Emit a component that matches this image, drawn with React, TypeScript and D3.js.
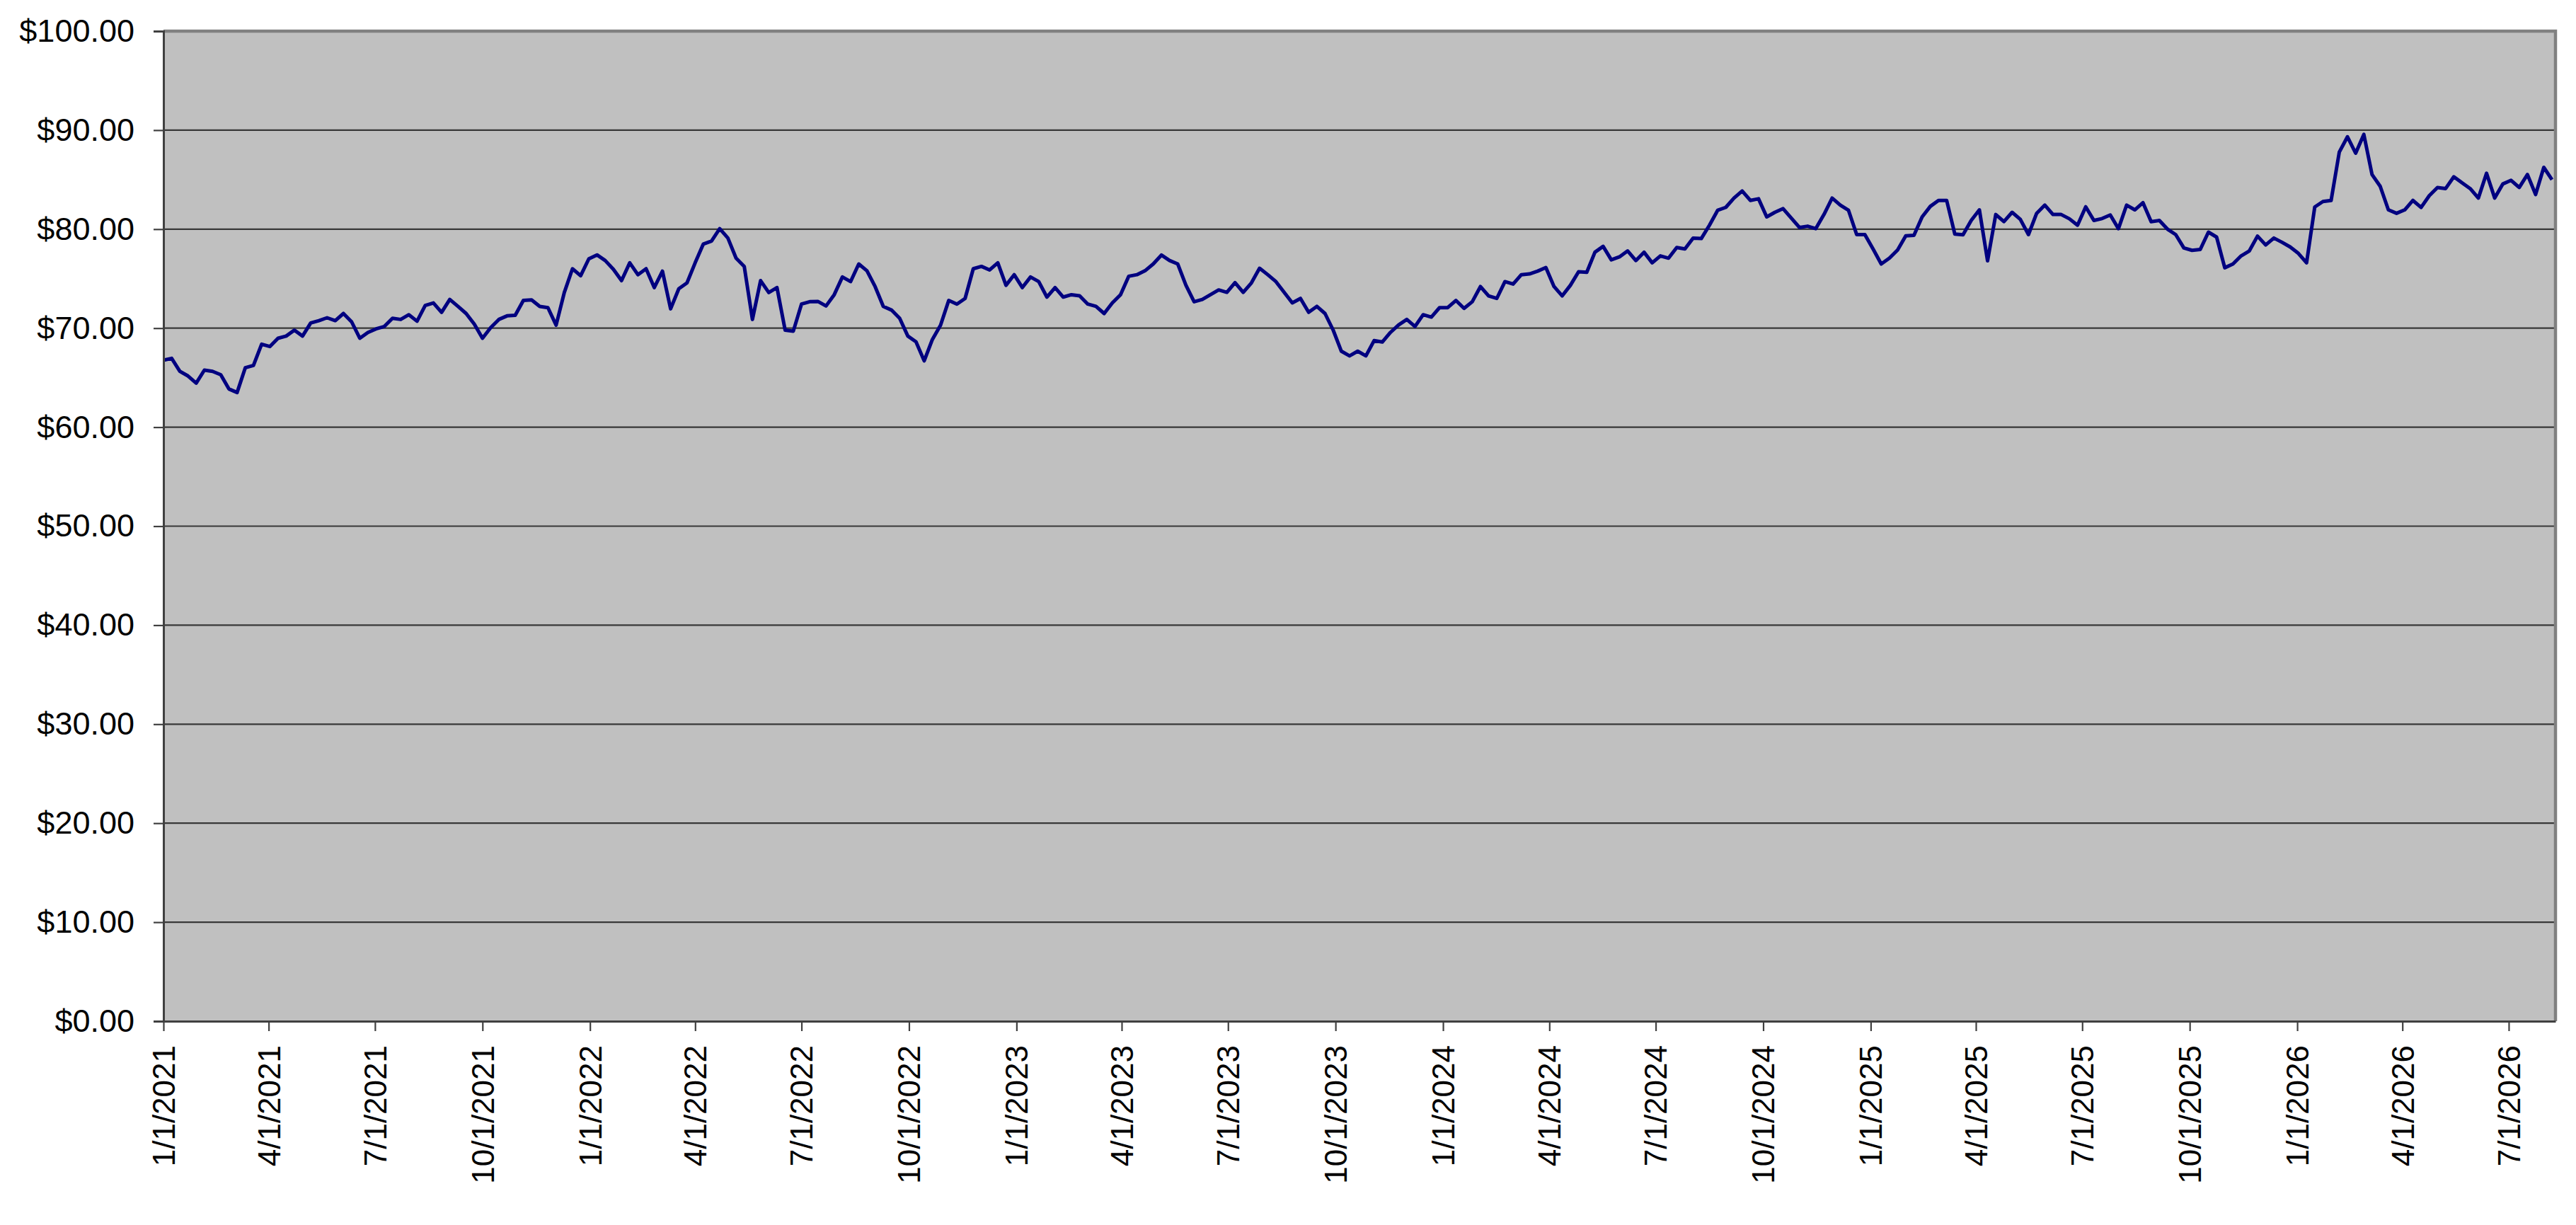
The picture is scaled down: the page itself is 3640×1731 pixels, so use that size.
import React, { useEffect, useRef } from 'react'
import * as d3 from 'd3'

// weekly closing price, first week starts 1/1/2021
const START_DATE = '1/1/2021'
const END_DATE = '8/10/2026'

const WEEKLY_CLOSE: number[] = [
  66.76, 66.95, 65.64, 65.17, 64.45, 65.76, 65.64, 65.3, 63.86, 63.5,
  66.0, 66.24, 68.38, 68.14, 68.98, 69.2, 69.8, 69.2, 70.52, 70.76,
  71.05, 70.76, 71.48, 70.64, 68.98, 69.57, 69.93, 70.17, 71.0, 70.88,
  71.36, 70.7, 72.3, 72.55, 71.6, 72.9, 72.2, 71.48, 70.4, 68.98,
  70.05, 70.88, 71.24, 71.3, 72.8, 72.86, 72.2, 72.07, 70.3, 73.6,
  76.0, 75.3, 77.0, 77.4, 76.83, 75.95, 74.8, 76.6, 75.4, 76.0,
  74.1, 75.76, 71.95, 73.98, 74.57, 76.6, 78.5, 78.8, 80.05, 79.1,
  77.07, 76.24, 70.88, 74.8, 73.6, 74.1, 69.8, 69.7, 72.43, 72.67,
  72.7, 72.24, 73.38, 75.17, 74.7, 76.48, 75.8, 74.2, 72.2, 71.83,
  71.0, 69.2, 68.62, 66.7, 68.86, 70.3, 72.8, 72.43, 73.0, 76.0,
  76.24, 75.88, 76.6, 74.33, 75.4, 74.1, 75.17, 74.7, 73.14, 74.1,
  73.14, 73.38, 73.26, 72.43, 72.2, 71.48, 72.55, 73.38, 75.24, 75.4,
  75.8, 76.48, 77.38, 76.83, 76.48, 74.33, 72.67, 72.9, 73.38, 73.86,
  73.62, 74.6, 73.62, 74.57, 76.05, 75.4, 74.7, 73.62, 72.55, 73.0,
  71.6, 72.2, 71.48, 69.8, 67.67, 67.2, 67.67, 67.2, 68.74, 68.6,
  69.57, 70.33, 70.88, 70.17, 71.36, 71.12, 72.07, 72.07, 72.8, 72.0,
  72.67, 74.2, 73.26, 73.0, 74.7, 74.45, 75.4, 75.48, 75.76, 76.12,
  74.2, 73.26, 74.33, 75.7, 75.64, 77.67, 78.26, 76.9, 77.2, 77.8,
  76.83, 77.67, 76.6, 77.3, 77.07, 78.14, 78.0, 79.1, 79.05, 80.4,
  81.9, 82.2, 83.14, 83.86, 82.9, 83.07, 81.24, 81.7, 82.07, 81.12,
  80.17, 80.3, 80.05, 81.48, 83.14, 82.43, 81.9, 79.45, 79.45, 78.0,
  76.48, 77.07, 77.9, 79.33, 79.38, 81.24, 82.3, 82.9, 82.9, 79.5,
  79.43, 80.88, 81.95, 76.8, 81.48, 80.76, 81.7, 81.0, 79.45, 81.6,
  82.43, 81.48, 81.48, 81.05, 80.4, 82.26, 80.88, 81.07, 81.43, 80.05,
  82.43, 81.95, 82.67, 80.76, 80.88, 80.0, 79.45, 78.1, 77.86, 77.95,
  79.7, 79.2, 76.1, 76.48, 77.3, 77.8, 79.3, 78.4, 79.1, 78.67,
  78.2, 77.55, 76.6, 82.24, 82.79, 82.9, 87.79, 89.33, 87.67, 89.57,
  85.52, 84.33, 81.95, 81.6, 81.95, 82.9, 82.19, 83.38, 84.2, 84.1,
  85.29, 84.69, 84.1, 83.14, 85.64, 83.14, 84.57, 84.93, 84.21, 85.52,
  83.5, 86.24, 85.0
]

const X_TICK_LABELS = [
  '1/1/2021', '4/1/2021', '7/1/2021', '10/1/2021',
  '1/1/2022', '4/1/2022', '7/1/2022', '10/1/2022',
  '1/1/2023', '4/1/2023', '7/1/2023', '10/1/2023',
  '1/1/2024', '4/1/2024', '7/1/2024', '10/1/2024',
  '1/1/2025', '4/1/2025', '7/1/2025', '10/1/2025',
  '1/1/2026', '4/1/2026', '7/1/2026'
]

const Y_TICKS = [0, 10, 20, 30, 40, 50, 60, 70, 80, 90, 100]

const FONT = '"Liberation Sans", Arial, sans-serif'

const PriceChart: React.FC = () => {
  const svgRef = useRef<SVGSVGElement>(null)

  useEffect(() => {
    if (!svgRef.current) return

    const svg = d3.select(svgRef.current)
    svg.selectAll('*').remove()

    const W = 3640
    const H = 1731
    const margin = { top: 44, right: 29, bottom: 288, left: 231 }
    const width = W - margin.left - margin.right
    const height = H - margin.top - margin.bottom

    const parse = d3.timeParse('%m/%d/%Y')
    const start = parse(START_DATE) as Date
    const dates = WEEKLY_CLOSE.map((_, i) => d3.timeDay.offset(start, i * 7))
    const series = WEEKLY_CLOSE.map((v, i) => ({ date: dates[i], value: v }))

    const x = d3.scaleTime()
      .domain([start, parse(END_DATE) as Date])
      .range([0, width])

    const y = d3.scaleLinear()
      .domain([0, 100])
      .range([height, 0])

    svg.attr('width', W).attr('height', H)

    const g = svg.append('g')
      .attr('transform', `translate(${margin.left},${margin.top})`)

    // plot area
    g.append('rect')
      .attr('width', width)
      .attr('height', height)
      .attr('fill', '#c0c0c0')

    // gridlines
    g.append('g')
      .selectAll('line')
      .data(Y_TICKS.filter(d => d > 0 && d < 100))
      .enter()
      .append('line')
      .attr('x1', 0)
      .attr('x2', width)
      .attr('y1', d => y(d))
      .attr('y2', d => y(d))
      .attr('stroke', '#383838')
      .attr('stroke-width', 2.2)

    // border top/right
    g.append('path')
      .attr('d', `M0,0H${width}V${height}`)
      .attr('fill', 'none')
      .attr('stroke', '#808080')
      .attr('stroke-width', 4.5)

    // price line
    const line = d3.line<{ date: Date; value: number }>()
      .x(d => x(d.date))
      .y(d => y(d.value))

    g.append('path')
      .datum(series)
      .attr('fill', 'none')
      .attr('stroke', '#000080')
      .attr('stroke-width', 5)
      .attr('stroke-linejoin', 'round')
      .attr('d', line)

    // y axis
    const yAxis = g.append('g')
      .call(d3.axisLeft(y)
        .tickValues(Y_TICKS)
        .tickSize(14)
        .tickPadding(27)
        .tickFormat(d => d3.format('$.2f')(d as number)))
    yAxis.select('.domain').attr('stroke', '#404040').attr('stroke-width', 3)
    yAxis.selectAll('.tick line').attr('stroke', '#404040').attr('stroke-width', 2.2)
    yAxis.selectAll('text')
      .style('font-family', FONT)
      .style('font-size', '45px')
      .style('fill', '#000')

    // x axis
    const xAxis = g.append('g')
      .attr('transform', `translate(0,${height})`)
      .call(d3.axisBottom(x)
        .tickValues(X_TICK_LABELS.map(s => parse(s) as Date))
        .tickSize(14)
        .tickSizeOuter(0)
        .tickFormat(d => d3.timeFormat('%-m/%-d/%Y')(d as Date)))
    xAxis.select('.domain').attr('stroke', '#404040').attr('stroke-width', 3)
    xAxis.selectAll('.tick line').attr('stroke', '#404040').attr('stroke-width', 2.2)
    xAxis.selectAll('text')
      .attr('transform', 'rotate(-90)')
      .attr('x', -34)
      .attr('y', 0)
      .attr('dy', '0.35em')
      .style('text-anchor', 'end')
      .style('font-family', FONT)
      .style('font-size', '44px')
      .style('fill', '#000')
  }, [])

  return (
    <svg
      ref={svgRef}
      style={{ position: 'absolute', left: 0, top: 0, background: '#fff', display: 'block' }}
    />
  )
}

export default function App() {
  return <PriceChart />
}
